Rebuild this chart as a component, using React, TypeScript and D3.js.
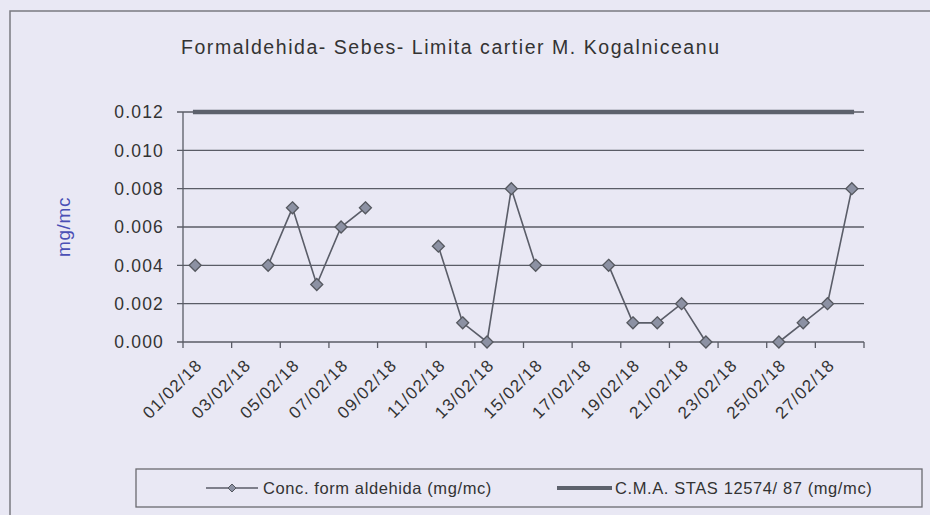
import React from "react";
import * as d3 from "d3";

const days: number[] = Array.from({ length: 28 }, (_, i) => i + 1);
const dayLabels: string[] = days.map((d) => `${String(d).padStart(2, "0")}/02/18`);
// formaldehyde concentration (mg/mc), null = no measurement
const concValues: (number | null)[] = [
  0.004, null, null, 0.004, 0.007, 0.003, 0.006, 0.007, null, null,
  0.005, 0.001, 0.0, 0.008, 0.004, null, null, 0.004, 0.001, 0.001,
  0.002, 0.0, null, null, 0.0, 0.001, 0.002, 0.008,
];
const cmaValues: number[] = days.map(() => 0.012);
const yTicks: number[] = [0, 0.002, 0.004, 0.006, 0.008, 0.01, 0.012];

const title = "Formaldehida- Sebes- Limita cartier M. Kogalniceanu";
const seriesName = "Conc. form aldehida (mg/mc)";
const cmaName = "C.M.A. STAS 12574/ 87 (mg/mc)";
const yTitle = "mg/mc";

const W = 930;
const H = 515;
const FONT = "'Liberation Sans', Arial, sans-serif";
const BG = "#e9e8f4";
const TXT = "#333";
const GRID = "#5a5c66";

export default function App() {
  const left = 183;
  const right = 864;
  const top = 112;
  const bottom = 342;
  const x = d3.scaleBand<number>().domain(days).range([left, right]).padding(0);
  const bw = x.bandwidth();
  const cx = (d: number) => (x(d) as number) + bw / 2;
  const y = d3.scaleLinear().domain([0, 0.012]).range([bottom, top]);

  const line = d3
    .line<number | null>()
    .defined((v) => v !== null)
    .x((_, i) => cx(days[i]))
    .y((v) => y(v as number));
  const cmaLine = d3
    .line<number>()
    .x((_, i) => cx(days[i]))
    .y((v) => y(v));

  const diamond = (px: number, py: number, r: number) =>
    `M${px},${py - r}L${px + r},${py}L${px},${py + r}L${px - r},${py}Z`;

  const tickIdx = d3.range(0, days.length + 1, 2);

  return (
    <svg width={W} height={H} style={{ display: "block", position: "absolute", left: 0, top: 0 }}>
      <rect x={0} y={0} width={W} height={H} fill={BG} />
      <rect x={10} y={11} width={W + 20} height={H + 20} fill="none" stroke="#7a7a80" strokeWidth={1.5} />
      <text x={181} y={54} fontFamily={FONT} fontSize={19.5} fill={TXT} textLength={538} lengthAdjust="spacing">
        {title}
      </text>
      {/* gridlines */}
      {yTicks.map((t) => (
        <line key={t} x1={left - 6} x2={right} y1={y(t)} y2={y(t)} stroke={GRID} strokeWidth={t === 0 ? 1.5 : 1.4} />
      ))}
      {/* y axis */}
      <line x1={left} x2={left} y1={top} y2={bottom} stroke={GRID} strokeWidth={1.3} />
      {yTicks.map((t) => (
        <text key={"yl" + t} x={164} y={y(t)} dy="0.36em" textAnchor="end" fontFamily={FONT} fontSize={17.5} letterSpacing={1.2} fill={TXT}>
          {d3.format(".3f")(t)}
        </text>
      ))}
      <text transform={`translate(70,227) rotate(-90)`} textAnchor="middle" fontFamily={FONT} fontSize={19} fill="#4a4fb5" letterSpacing={0.6}>
        {yTitle}
      </text>
      {/* x ticks */}
      {tickIdx.map((i) => {
        const xx = left + i * bw;
        return <line key={"xt" + i} x1={xx} x2={xx} y1={bottom} y2={bottom + 6} stroke={GRID} strokeWidth={1.3} />;
      })}
      {days.map((d, i) =>
        i % 2 === 0 ? (
          <text key={"xl" + d} transform={`translate(${cx(d) + 4},${bottom + 20}) rotate(-45)`} textAnchor="end" dy="0.35em" fontFamily={FONT} fontSize={17} letterSpacing={1.2} fill={TXT}>
            {dayLabels[i]}
          </text>
        ) : null
      )}
      {/* CMA line */}
      <path d={cmaLine(cmaValues) || ""} fill="none" stroke="#5d616c" strokeWidth={4.5} strokeLinecap="square" />
      {/* series */}
      <path d={line(concValues) || ""} fill="none" stroke="#5a5d68" strokeWidth={1.6} />
      {concValues.map((v, i) =>
        v === null ? null : (
          <path key={"m" + i} d={diamond(cx(days[i]), y(v), 6)} fill="#8c91a3" stroke="#55585f" strokeWidth={1.3} />
        )
      )}
      {/* legend */}
      <rect x={136} y={469} width={786} height={38} fill="none" stroke="#6a6a70" strokeWidth={1.3} />
      <line x1={206} x2={258} y1={488} y2={488} stroke="#5a5d68" strokeWidth={1.6} />
      <path d={diamond(232, 488, 4)} fill="#8c91a3" stroke="#55585f" strokeWidth={1} />
      <text x={263} y={488} dy="0.36em" fontFamily={FONT} fontSize={16.5} letterSpacing={0.6} fill={TXT}>
        {seriesName}
      </text>
      <line x1={557} x2={612} y1={488} y2={488} stroke="#5d616c" strokeWidth={4} />
      <text x={615} y={488} dy="0.36em" fontFamily={FONT} fontSize={16.5} letterSpacing={0.6} fill={TXT}>
        {cmaName}
      </text>
    </svg>
  );
}
